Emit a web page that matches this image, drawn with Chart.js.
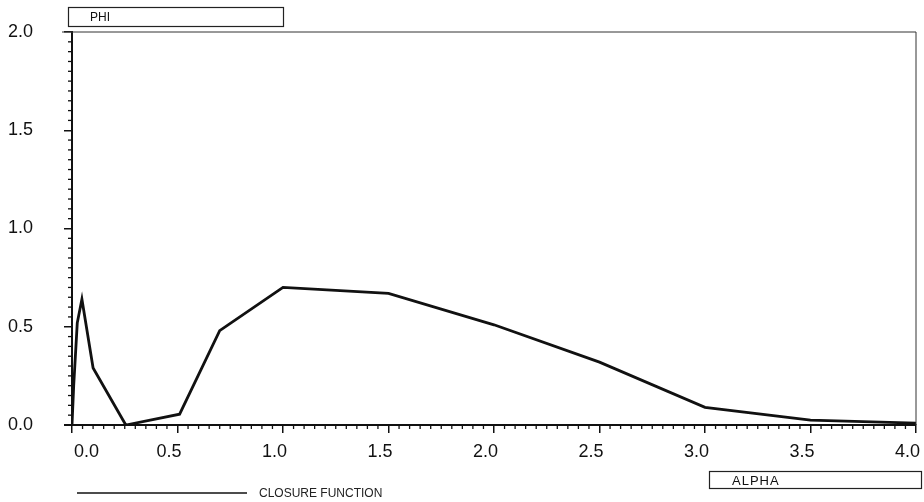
<!DOCTYPE html>
<html>
<head>
<meta charset="utf-8">
<script src="https://cdn.jsdelivr.net/npm/chart.js@4.4.1/dist/chart.umd.min.js"></script>
<style>
    html, body { margin: 0; padding: 0; background: #fff; }
    #wrap { width: 924px; height: 502px; position: relative; }
</style>
</head>
<body>
<div id="wrap"><canvas id="phi-chart" width="924" height="502"></canvas></div>
<script>
// Closure function, PHI vs ALPHA
const alpha = [0.0, 0.008, 0.025, 0.047, 0.10, 0.255, 0.51, 0.70, 1.0, 1.5, 2.0, 2.5, 3.0, 3.5, 4.0];
const phi   = [0.0, 0.20, 0.52, 0.64, 0.29, 0.0, 0.055, 0.48, 0.70, 0.67, 0.51, 0.32, 0.09, 0.025, 0.01];

const xTicks = [0.0, 0.5, 1.0, 1.5, 2.0, 2.5, 3.0, 3.5, 4.0];
const yTicks = [0.0, 0.5, 1.0, 1.5, 2.0];

const seriesLabel = 'CLOSURE FUNCTION';
const yTitle = 'PHI';
const xTitle = 'ALPHA';

const INK = '#111';
const FONT = '"Liberation Sans", Arial, sans-serif';

// minor ticks, frame, title boxes and legend
const decorations = {
    id: 'decorations',
    afterDraw(chart) {
        const ctx = chart.ctx;
        const x = chart.scales.x;
        const y = chart.scales.y;
        const area = chart.chartArea;
        ctx.save();
        ctx.strokeStyle = INK;

        // minor ticks every 0.05
        ctx.lineWidth = 1.3;
        for (let i = 0; i <= 80; i++) {
            if (i % 10 === 0) continue;
            const px = x.getPixelForValue(i * 0.05);
            ctx.beginPath();
            ctx.moveTo(px, area.bottom);
            ctx.lineTo(px, area.bottom + 4);
            ctx.stroke();
        }
        for (let i = 0; i <= 40; i++) {
            if (i % 10 === 0) continue;
            const py = y.getPixelForValue(i * 0.05);
            ctx.beginPath();
            ctx.moveTo(area.left, py);
            ctx.lineTo(area.left - 4, py);
            ctx.stroke();
        }

        // frame top and right
        ctx.lineWidth = 1;
        ctx.strokeStyle = '#333';
        ctx.beginPath();
        ctx.moveTo(area.left - 10, area.top);
        ctx.lineTo(area.right, area.top);
        ctx.lineTo(area.right, area.bottom);
        ctx.stroke();

        // x axis little overhang
        ctx.lineWidth = 2;
        ctx.strokeStyle = INK;
        ctx.beginPath();
        ctx.moveTo(area.left - 8, area.bottom);
        ctx.lineTo(area.left, area.bottom);
        ctx.stroke();

        // first x label sits right of the y axis
        ctx.fillStyle = INK;
        ctx.font = '18px ' + FONT;
        ctx.textAlign = 'left';
        ctx.textBaseline = 'top';
        ctx.fillText(xTicks[0].toFixed(1), x.getPixelForValue(xTicks[0]) + 2, area.bottom + 18);

        // title boxes
        ctx.lineWidth = 1.2;
        ctx.strokeStyle = '#222';
        ctx.textBaseline = 'middle';

        ctx.strokeRect(68.5, 7.5, 215, 19);
        ctx.font = '12px ' + FONT;
        ctx.fillText(yTitle, 90, 18);

        ctx.strokeRect(709.5, 471.5, 212, 17);
        ctx.font = '13px ' + FONT;
        ctx.letterSpacing = '1px';
        ctx.fillText(xTitle, 732, 481);
        ctx.letterSpacing = '0px';

        // legend
        const ds = chart.data.datasets[0];
        ctx.lineWidth = 1.6;
        ctx.strokeStyle = ds.borderColor;
        ctx.beginPath();
        ctx.moveTo(77, 493);
        ctx.lineTo(247, 493);
        ctx.stroke();
        ctx.font = '12px ' + FONT;
        ctx.fillStyle = '#222';
        ctx.fillText(ds.label, 259, 494);

        ctx.restore();
    }
};

const points = alpha.map((a, i) => ({ x: a, y: phi[i] }));

new Chart(document.getElementById('phi-chart'), {
    type: 'line',
    data: {
        datasets: [{
            label: seriesLabel,
            data: points,
            borderColor: INK,
            borderWidth: 2.8,
            pointRadius: 0,
            tension: 0,
            fill: false
        }]
    },
    options: {
        responsive: false,
        animation: false,
        layout: { padding: { top: 32, right: 8, left: 0, bottom: 0 } },
        plugins: {
            legend: { display: false },
            tooltip: { enabled: false }
        },
        scales: {
            x: {
                type: 'linear',
                min: 0,
                max: 4,
                afterBuildTicks(scale) {
                    scale.ticks = xTicks.map(v => ({ value: v }));
                },
                afterFit(scale) {
                    scale.height = 77;
                    scale.paddingLeft = 0;
                    scale.paddingRight = 0;
                },
                ticks: {
                    color: INK,
                    font: { family: FONT, size: 18 },
                    padding: 8,
                    align: 'end',
                    labelOffset: 4,
                    maxRotation: 0,
                    callback: v => (v === 0 ? '' : v.toFixed(1))
                },
                grid: {
                    drawOnChartArea: false,
                    drawTicks: true,
                    tickLength: 8,
                    color: INK,
                    lineWidth: 1.5
                },
                border: { display: true, color: INK, width: 2 }
            },
            y: {
                type: 'linear',
                min: 0,
                max: 2,
                afterBuildTicks(scale) {
                    scale.ticks = yTicks.map(v => ({ value: v }));
                },
                afterFit(scale) {
                    scale.width = 72;
                    scale.paddingTop = 0;
                    scale.paddingBottom = 0;
                },
                ticks: {
                    color: INK,
                    font: { family: FONT, size: 18 },
                    padding: 31,
                    callback: v => v.toFixed(1)
                },
                grid: {
                    drawOnChartArea: false,
                    drawTicks: true,
                    tickLength: 8,
                    color: INK,
                    lineWidth: 1.5
                },
                border: { display: true, color: INK, width: 2 }
            }
        }
    },
    plugins: [decorations]
});
</script>
</body>
</html>
